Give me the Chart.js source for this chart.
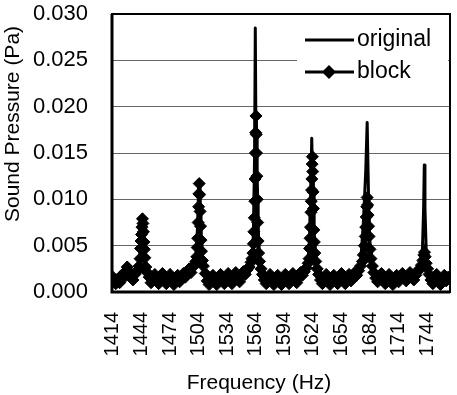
<!DOCTYPE html>
<html>
<head>
<meta charset="utf-8">
<script src="https://cdn.jsdelivr.net/npm/chart.js@4"></script>
<style>
  body { margin: 0; background: #fff; }
  #wrap { width: 457px; height: 395px; }
</style>
</head>
<body>
<div id="wrap"><canvas id="spectrum" width="457" height="395"></canvas></div>
<script>
// spectrum values (Hz, Pa)
const xTicks = [1414, 1444, 1474, 1504, 1534, 1564, 1594, 1624, 1654, 1684, 1714, 1744];
const yTicks = [0, 0.005, 0.010, 0.015, 0.020, 0.025, 0.030];

const origFreq = [
  1413, 1416, 1419, 1422, 1425, 1428, 1431, 1434, 1437, 1440, 1442, 1443.5, 1445, 1446.5, 1448, 1450,
  1453, 1456, 1459, 1462, 1465, 1468, 1471, 1474, 1477, 1480, 1483, 1486, 1489, 1492, 1495, 1498,
  1500.5, 1502.5, 1504.3, 1505.5, 1507, 1509, 1512, 1515, 1518, 1521, 1524, 1527, 1530, 1533, 1536,
  1539, 1542, 1545, 1548, 1551, 1554, 1557, 1559.5, 1561.5, 1562.8, 1563.5, 1564.3, 1565.5, 1567.5,
  1570, 1573, 1576, 1579, 1582, 1585, 1588, 1591, 1594, 1597, 1600, 1603, 1606, 1609, 1612, 1615,
  1618, 1620.3, 1621.8, 1622.8, 1623.8, 1625.3, 1627.5, 1630, 1633, 1636, 1639, 1642, 1645, 1648,
  1651, 1654, 1657, 1660, 1663, 1666, 1669, 1672, 1674, 1677, 1679.5, 1681, 1682.3, 1683.5, 1686,
  1689, 1692, 1695, 1698, 1701, 1704, 1707, 1710, 1713, 1716, 1719, 1722, 1725, 1728, 1731, 1734,
  1737, 1739, 1740.3, 1741, 1741.7, 1743, 1745, 1748, 1751, 1754, 1757, 1760, 1763, 1766, 1768
];
const origVals = [
  0.0014, 0.0012, 0.0016, 0.0013, 0.0018, 0.0024, 0.0020, 0.0016, 0.0019, 0.0025, 0.0034, 0.0055, 0.0077, 0.0052, 0.0030, 0.0020,
  0.0014, 0.0016, 0.0013, 0.0011, 0.0017, 0.0014, 0.0012, 0.0016, 0.0012, 0.0015, 0.0016, 0.0014, 0.0018, 0.0020, 0.0023, 0.0026,
  0.0031, 0.0060, 0.0114, 0.0075, 0.0035, 0.0024, 0.0015, 0.0011, 0.0015, 0.0012, 0.0014, 0.0016, 0.0012, 0.0015, 0.0017,
  0.0013, 0.0018, 0.0015, 0.0016, 0.0020, 0.0022, 0.0026, 0.0033, 0.0060, 0.0150, 0.0285, 0.0150, 0.0065, 0.0033,
  0.0020, 0.0014, 0.0012, 0.0016, 0.0012, 0.0014, 0.0015, 0.0011, 0.0016, 0.0013, 0.0014, 0.0017, 0.0013, 0.0016, 0.0019, 0.0021,
  0.0028, 0.0050, 0.0110, 0.0166, 0.0110, 0.0050, 0.0028, 0.0018, 0.0013, 0.0015, 0.0016, 0.0011, 0.0015, 0.0013,
  0.0014, 0.0017, 0.0012, 0.0015, 0.0016, 0.0014, 0.0018, 0.0024, 0.0030, 0.0075, 0.0130, 0.0183, 0.0110, 0.0050, 0.0030,
  0.0019, 0.0013, 0.0016, 0.0012, 0.0014, 0.0016, 0.0012, 0.0015, 0.0013, 0.0014, 0.0017, 0.0013, 0.0016, 0.0015, 0.0016, 0.0020,
  0.0026, 0.0045, 0.0090, 0.0137, 0.0090, 0.0045, 0.0025, 0.0015, 0.0013, 0.0016, 0.0012, 0.0014, 0.0016, 0.0013, 0.0014
];

const blockFreq = [
  1413, 1415, 1417, 1419, 1421, 1423, 1425, 1427, 1429, 1431, 1433, 1435, 1437, 1439,
  1440.5, 1441.5, 1442.5, 1443, 1443.5, 1444, 1444.5, 1445, 1445.5, 1446, 1446.5, 1447, 1447.5, 1448.5, 1450,
  1452, 1454, 1456, 1458, 1460, 1462, 1464, 1466, 1468, 1470, 1472, 1474, 1476, 1478, 1480, 1482, 1484,
  1486, 1488, 1490, 1492, 1494, 1496, 1498, 1500,
  1501, 1502, 1502.5, 1503, 1503.5, 1504, 1504.3, 1504.6, 1505, 1505.5, 1506, 1506.5, 1507, 1508, 1509, 1511,
  1513, 1515, 1517, 1519, 1521, 1523, 1525, 1527, 1529, 1531, 1533, 1535, 1537, 1539, 1541, 1543, 1545,
  1547, 1549, 1551, 1553, 1555, 1557, 1559,
  1560, 1561, 1561.5, 1562, 1562.5, 1563, 1563.3, 1563.6, 1563.9, 1564.2, 1564.5, 1564.8, 1565.1, 1565.5,
  1566, 1566.5, 1567, 1568, 1569.5, 1571,
  1573, 1575, 1577, 1579, 1581, 1583, 1585, 1587, 1589, 1591, 1593, 1595, 1597, 1599, 1601, 1603, 1605,
  1607, 1609, 1611, 1613, 1615, 1617, 1619,
  1620, 1620.5, 1621, 1621.5, 1622, 1622.3, 1622.6, 1622.9, 1623.2, 1623.5, 1623.8, 1624.2, 1624.6, 1625,
  1625.5, 1626, 1627, 1628.5, 1630, 1632, 1634,
  1636, 1638, 1640, 1642, 1644, 1646, 1648, 1650, 1652, 1654, 1656, 1658, 1660, 1662, 1664, 1666, 1668,
  1670, 1672, 1674, 1676,
  1677, 1678, 1679, 1679.5, 1680, 1680.5, 1681, 1681.5, 1682, 1682.5, 1683, 1684, 1685, 1686.5, 1688,
  1690, 1692, 1694, 1696, 1698, 1700, 1702, 1704, 1706, 1708, 1710, 1712, 1714, 1716, 1718, 1720, 1722,
  1724, 1726, 1728, 1730, 1732, 1734, 1736, 1738,
  1739.5, 1740.5, 1741.2, 1742, 1743, 1744.5, 1746, 1748,
  1750, 1752, 1754, 1756, 1758, 1760, 1762, 1764, 1766, 1768
];
const blockVals = [
  0.0017, 0.0012, 0.0009, 0.0014, 0.0010, 0.0018, 0.0015, 0.0022, 0.0027, 0.0022, 0.0017, 0.0013, 0.0019, 0.0022,
  0.0024, 0.0028, 0.0036, 0.0047, 0.0055, 0.0062, 0.0070, 0.0079, 0.0074, 0.0065, 0.0054, 0.0046, 0.0037, 0.0027, 0.0021,
  0.0016, 0.0010, 0.0014, 0.0019, 0.0013, 0.0009, 0.0015, 0.0020, 0.0014, 0.0009, 0.0013, 0.0019, 0.0012, 0.0008, 0.0014, 0.0018, 0.0011,
  0.0015, 0.0020, 0.0016, 0.0021, 0.0025, 0.0021, 0.0027, 0.0030,
  0.0033, 0.0038, 0.0048, 0.0058, 0.0075, 0.0092, 0.0106, 0.0117, 0.0105, 0.0087, 0.0071, 0.0056, 0.0044, 0.0034, 0.0028, 0.0020,
  0.0012, 0.0008, 0.0014, 0.0018, 0.0011, 0.0008, 0.0015, 0.0019, 0.0012, 0.0009, 0.0016, 0.0020, 0.0013, 0.0009, 0.0017, 0.0021, 0.0015,
  0.0011, 0.0018, 0.0022, 0.0019, 0.0024, 0.0027, 0.0032,
  0.0036, 0.0042, 0.0052, 0.0065, 0.0080, 0.0098, 0.0122, 0.0150, 0.0172, 0.0190, 0.0170, 0.0150, 0.0125, 0.0100,
  0.0075, 0.0055, 0.0042, 0.0033, 0.0025, 0.0019,
  0.0013, 0.0009, 0.0015, 0.0019, 0.0012, 0.0008, 0.0014, 0.0018, 0.0011, 0.0008, 0.0015, 0.0019, 0.0013, 0.0009, 0.0016, 0.0020, 0.0014,
  0.0010, 0.0017, 0.0021, 0.0018, 0.0022, 0.0026, 0.0031,
  0.0036, 0.0047, 0.0058, 0.0070, 0.0086, 0.0098, 0.0110, 0.0122, 0.0138, 0.0146, 0.0130, 0.0108, 0.0090, 0.0067,
  0.0054, 0.0042, 0.0033, 0.0025, 0.0019, 0.0013, 0.0009,
  0.0015, 0.0019, 0.0012, 0.0008, 0.0014, 0.0018, 0.0011, 0.0009, 0.0016, 0.0020, 0.0013, 0.0009, 0.0015, 0.0019, 0.0012, 0.0016, 0.0021,
  0.0018, 0.0023, 0.0028, 0.0033,
  0.0040, 0.0050, 0.0060, 0.0070, 0.0081, 0.0092, 0.0102, 0.0094, 0.0083, 0.0071, 0.0060, 0.0046, 0.0036, 0.0028, 0.0021,
  0.0015, 0.0011, 0.0016, 0.0020, 0.0013, 0.0009, 0.0015, 0.0019, 0.0012, 0.0008, 0.0014, 0.0018, 0.0011, 0.0015, 0.0020, 0.0016, 0.0012,
  0.0017, 0.0021, 0.0017, 0.0013, 0.0018, 0.0022, 0.0025, 0.0029,
  0.0034, 0.0040, 0.0043, 0.0038, 0.0031, 0.0025, 0.0019, 0.0013,
  0.0009, 0.0015, 0.0019, 0.0012, 0.0008, 0.0014, 0.0018, 0.0012, 0.0016, 0.0013
];

const FONT = 'Liberation Sans, Arial, sans-serif';

function pairs(xs, ys) {
  return xs.map((x, i) => ({ x: x, y: ys[i] }));
}

// axis titles, plot frame and the in-plot legend
const decorPlugin = {
  id: 'decor',
  afterDraw(chart) {
    const ctx = chart.ctx;
    const a = chart.chartArea;
    ctx.save();

    ctx.strokeStyle = '#000';
    ctx.lineWidth = 2;
    ctx.strokeRect(a.left, a.top, a.right - a.left, a.bottom - a.top);
    ctx.lineWidth = 3;
    ctx.beginPath();
    ctx.moveTo(a.left, a.top);
    ctx.lineTo(a.left, a.bottom);
    ctx.lineTo(a.right, a.bottom);
    ctx.stroke();

    // legend box
    const lx = 297, ly = 18;
    ctx.fillStyle = '#fff';
    ctx.fillRect(lx, ly, a.right - lx - 2, 76);
    ctx.fillStyle = '#000';
    ctx.font = '23px ' + FONT;
    ctx.textBaseline = 'middle';
    ctx.textAlign = 'left';
    chart.data.datasets.forEach((ds, i) => {
      const y = 40 + i * 32;
      ctx.lineWidth = 3;
      ctx.beginPath();
      ctx.moveTo(305, y);
      ctx.lineTo(354, y);
      ctx.stroke();
      if (ds.pointRadius > 0) {
        ctx.beginPath();
        ctx.moveTo(329, y - 7);
        ctx.lineTo(336, y);
        ctx.lineTo(329, y + 7);
        ctx.lineTo(322, y);
        ctx.closePath();
        ctx.fill();
      }
      ctx.fillText(ds.label, 357, y);
    });

    ctx.font = '21px ' + FONT;
    ctx.textAlign = 'center';
    ctx.fillText('Frequency (Hz)', 259, 383);
    ctx.translate(13, 124);
    ctx.rotate(-Math.PI / 2);
    ctx.fillText('Sound Pressure (Pa)', 0, 0);
    ctx.restore();
  }
};

new Chart(document.getElementById('spectrum'), {
  type: 'line',
  data: {
    datasets: [{
      label: 'original',
      data: pairs(origFreq, origVals),
      borderColor: '#000',
      borderWidth: 3,
      pointRadius: 0,
      borderJoinStyle: 'round',
      tension: 0
    }, {
      label: 'block',
      data: pairs(blockFreq, blockVals),
      borderColor: '#000',
      borderWidth: 4,
      pointStyle: 'rectRot',
      pointRadius: 6,
      pointBackgroundColor: '#000',
      pointBorderColor: '#000',
      pointBorderWidth: 1,
      tension: 0
    }]
  },
  options: {
    responsive: false,
    animation: false,
    layout: { padding: { top: 14, right: 5, left: 0, bottom: 0 } },
    plugins: { legend: { display: false }, tooltip: { enabled: false } },
    scales: {
      x: {
        type: 'linear',
        min: 1413,
        max: 1768,
        afterBuildTicks: s => { s.ticks = xTicks.map(v => ({ value: v })); },
        afterFit: s => {
          s.height = 103;
          s.paddingLeft = 0;
          s.paddingRight = 0;
        },
        grid: { display: false, drawTicks: false },
        border: { display: false },
        ticks: {
          autoSkip: false,
          minRotation: 90,
          maxRotation: 90,
          padding: 20,
          color: '#000',
          font: { family: FONT, size: 20 },
          callback: v => String(v)
        }
      },
      y: {
        min: 0,
        max: 0.03,
        afterBuildTicks: s => { s.ticks = yTicks.map(v => ({ value: v })); },
        afterFit: s => {
          s.width = 112;
          s.paddingTop = 0;
          s.paddingBottom = 0;
        },
        grid: { color: '#666', lineWidth: 1, drawTicks: false },
        border: { display: false },
        ticks: {
          padding: 24,
          color: '#000',
          font: { family: FONT, size: 22 },
          callback: v => v.toFixed(3)
        }
      }
    }
  },
  plugins: [decorPlugin]
});
</script>
</body>
</html>
